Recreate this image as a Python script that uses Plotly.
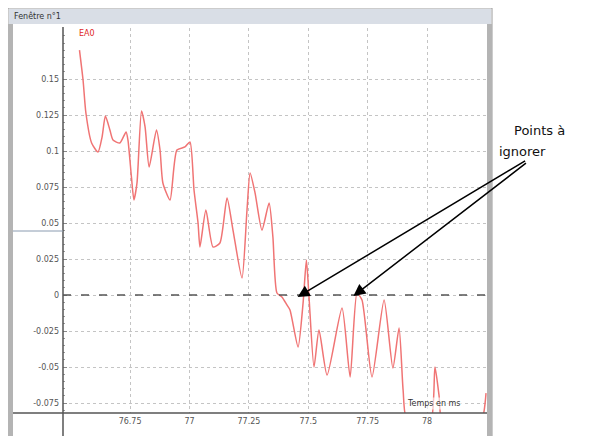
import plotly.graph_objects as go

# ---- data ----
time_ms = [76.537, 76.552, 76.564, 76.588, 76.615, 76.632, 76.646, 76.665, 76.678, 76.707,
           76.733, 76.741, 76.756, 76.766, 76.779, 76.798, 76.813, 76.830, 76.861, 76.876,
           76.888, 76.918, 76.947, 76.981, 77.002, 77.019, 77.036, 77.044, 77.069, 77.099,
           77.128, 77.158, 77.183, 77.221, 77.242, 77.255, 77.276, 77.305, 77.335, 77.351,
           77.368, 77.389, 77.410, 77.423, 77.457, 77.478, 77.492, 77.503, 77.524, 77.545,
           77.579, 77.642, 77.676, 77.705, 77.726, 77.768, 77.819, 77.856, 77.882, 77.899,
           77.915, 78.012, 78.033, 78.050, 78.067, 78.222, 78.248]
ea0 = [0.1701, 0.1493, 0.1264, 0.1056, 0.0993, 0.1097, 0.1243, 0.1146, 0.1076, 0.1056,
       0.1132, 0.1076, 0.0813, 0.0660, 0.0778, 0.1278, 0.1167, 0.0889, 0.1146, 0.1007,
       0.0778, 0.0660, 0.1007, 0.1028, 0.1063, 0.0729, 0.0500, 0.0333, 0.0590, 0.0333,
       0.0361, 0.0674, 0.0451, 0.0118, 0.0590, 0.0847, 0.0708, 0.0451, 0.0639, 0.0403,
       0.0014, -0.0014, -0.0069, -0.0104, -0.0361, -0.0056, 0.0243, -0.0014, -0.0500, -0.0243,
       -0.0556, -0.0090, -0.0569, 0.0014, -0.0035, -0.0569, -0.0035, -0.0507, -0.0229, -0.0660,
       -0.0868, -0.0900, -0.0500, -0.0694, -0.0900, -0.0900, -0.0681]

y_tickvals = [0.15, 0.125, 0.1, 0.075, 0.05, 0.025, 0, -0.025, -0.05, -0.075]
y_ticktext = ["0.15", "0.125", "0.1", "0.075", "0.05", "0.025", "0", "-0.025", "-0.05", "-0.075"]
x_tickvals = [76.75, 77, 77.25, 77.5, 77.75, 78]
x_ticktext = ["76.75", "77", "77.25", "77.5", "77.75", "78"]

W, H = 596, 436
OFF = 8  # page body margin

def PX(p):
    return (p - OFF) / W

def PY(p):
    return 1 - (p - OFF) / H

fig = go.Figure()
fig.add_trace(go.Scatter(x=time_ms, y=ea0, mode="lines", line_shape="spline",
                         line=dict(color="#f07474", width=1.5, smoothing=0.6), showlegend=False,
                         hoverinfo="skip"))

shapes = []
# window frame
shapes.append(dict(type="rect", xref="paper", yref="paper", x0=PX(8), x1=PX(492), y0=PY(444), y1=PY(8),
                   line=dict(color="#9a9a9a", width=1), fillcolor="#ffffff", layer="below"))
shapes.append(dict(type="rect", xref="paper", yref="paper", x0=PX(9), x1=PX(491), y0=PY(24), y1=PY(9),
                   line=dict(width=0), fillcolor="#d9dee6", layer="below"))
shapes.append(dict(type="rect", xref="paper", yref="paper", x0=PX(8), x1=PX(13), y0=PY(444), y1=PY(24),
                   line=dict(width=0), fillcolor="#b4b4b4", layer="below"))
shapes.append(dict(type="rect", xref="paper", yref="paper", x0=PX(487), x1=PX(492), y0=PY(444), y1=PY(24),
                   line=dict(width=0), fillcolor="#b4b4b4", layer="below"))
# zero line (dashed)
shapes.append(dict(type="line", xref="x domain", yref="y", x0=0, x1=1, y0=0, y1=0,
                   line=dict(color="#555555", width=1.5, dash="8px,10px")))
# x axis line extending across the window
shapes.append(dict(type="line", xref="paper", yref="paper", x0=PX(13), x1=PX(487), y0=PY(413), y1=PY(413),
                   line=dict(color="#555555", width=1.5)))
# y axis line
shapes.append(dict(type="line", xref="paper", yref="paper", x0=PX(63), x1=PX(63), y0=PY(444), y1=PY(27),
                   line=dict(color="#555555", width=1.5)))
# small mark on left margin
shapes.append(dict(type="line", xref="paper", yref="paper", x0=PX(13), x1=PX(63), y0=PY(231), y1=PY(231),
                   line=dict(color="#8a9bb0", width=1)))

annotations = [
    dict(text="Fenêtre n°1", xref="paper", yref="paper", x=PX(12), y=PY(16), xanchor="left", yanchor="middle",
         showarrow=False, font=dict(family="DejaVu Sans", size=8, color="#333333")),
    dict(text="EA0", xref="paper", yref="paper", x=PX(77), y=PY(33), xanchor="left", yanchor="middle",
         showarrow=False, font=dict(family="DejaVu Sans", size=8, color="#e02828")),
    dict(text="Temps en ms", xref="paper", yref="paper", x=PX(405), y=PY(403), xanchor="left", yanchor="middle",
         showarrow=False, font=dict(family="DejaVu Sans", size=8, color="#333333"), bgcolor="rgba(255,255,255,0.6)"),
    dict(text="Points à", xref="paper", yref="paper", x=PX(512), y=PY(131), xanchor="left", yanchor="middle",
         showarrow=False, font=dict(family="DejaVu Sans", size=13, color="#111111")),
    dict(text="ignorer", xref="paper", yref="paper", x=PX(497), y=PY(151), xanchor="left", yanchor="middle",
         showarrow=False, font=dict(family="DejaVu Sans", size=13, color="#111111")),
    dict(text="", x=77.455, y=-0.0014, xref="x", yref="y", ax=229, ay=-137, axref="pixel", ayref="pixel",
         showarrow=True, arrowhead=2, arrowsize=1.6, arrowwidth=1.5, arrowcolor="#000000", standoff=0),
    dict(text="", x=77.690, y=-0.0007, xref="x", yref="y", ax=174, ay=-134, axref="pixel", ayref="pixel",
         showarrow=True, arrowhead=2, arrowsize=1.6, arrowwidth=1.5, arrowcolor="#000000", standoff=0),
]

fig.update_layout(
    width=W, height=H,
    margin=dict(l=0, r=0, t=0, b=0),
    paper_bgcolor="#ffffff", plot_bgcolor="#ffffff",
    shapes=shapes, annotations=annotations,
    xaxis=dict(domain=[PX(63), PX(487)], range=[76.4676, 78.2521],
               tickvals=x_tickvals, ticktext=x_ticktext, showgrid=True, gridcolor="#c4c4c4",
               griddash="dot", gridwidth=1, zeroline=False, showline=False, ticks="",
               tickfont=dict(family="DejaVu Sans", size=8, color="#555555"), ticklabelstandoff=2),
    yaxis=dict(domain=[PY(413), PY(28)], range=[-0.08194, 0.18542],
               tickvals=y_tickvals, ticktext=y_ticktext, showgrid=True, gridcolor="#c4c4c4",
               griddash="dot", gridwidth=1, zeroline=False, showline=False,
               ticks="inside", ticklen=4, tickcolor="#888888",
               minor=dict(ticks="inside", ticklen=2, dtick=0.005, tick0=0, tickcolor="#999999", showgrid=False),
               tickfont=dict(family="DejaVu Sans", size=8, color="#555555"), ticklabelstandoff=3),
)

fig.write_html("out.html")
